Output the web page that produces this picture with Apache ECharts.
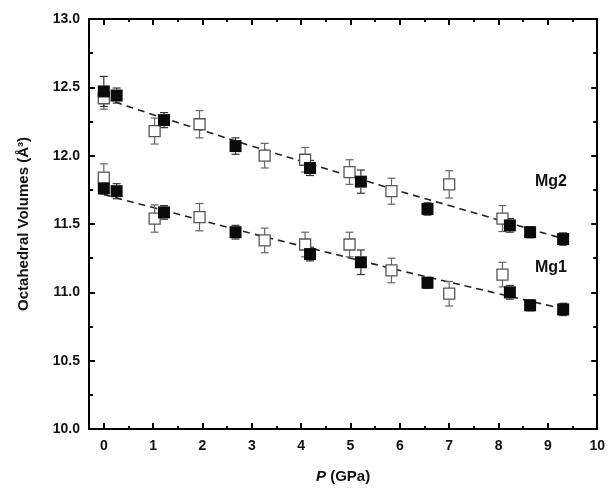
<!DOCTYPE html>
<html>
<head>
<meta charset="utf-8">
<script src="https://cdn.jsdelivr.net/npm/echarts@6/dist/echarts.min.js"></script>
<style>
html,body{margin:0;padding:0;background:#fff;}
#chart{width:608px;height:490px;}
</style>
</head>
<body>
<div id="chart"></div>
<script>
// Pressure points (GPa) for the two sample sets
var pFilled = [0.0, 0.26, 1.22, 2.67, 4.18, 5.21, 6.56, 8.23, 8.64, 9.31];
var pOpen = [0.0, 1.03, 1.94, 3.26, 4.08, 4.98, 5.83, 7.0, 8.08];

// Mg2 octahedral volumes (Å³) and uncertainties
var mg2Filled = [12.47, 12.44, 12.26, 12.07, 11.91, 11.81, 11.61, 11.49, 11.44, 11.39];
var mg2FilledErr = [0.11, 0.055, 0.055, 0.06, 0.055, 0.085, 0.045, 0.05, 0.04, 0.045];
var mg2Open = [12.42, 12.18, 12.23, 12.00, 11.97, 11.88, 11.74, 11.79, 11.54];
var mg2OpenErr = [0.08, 0.095, 0.1, 0.09, 0.09, 0.09, 0.095, 0.1, 0.095];

// Mg1 octahedral volumes (Å³) and uncertainties
var mg1Filled = [11.76, 11.74, 11.585, 11.44, 11.28, 11.22, 11.07, 11.0, 10.905, 10.875];
var mg1FilledErr = [0.04, 0.055, 0.05, 0.05, 0.05, 0.09, 0.04, 0.05, 0.04, 0.045];
var mg1Open = [11.84, 11.54, 11.55, 11.38, 11.35, 11.35, 11.16, 10.99, 11.13];
var mg1OpenErr = [0.1, 0.1, 0.1, 0.09, 0.09, 0.09, 0.09, 0.09, 0.09];

// Equation-of-state fit curves
var fitP = [0, 1, 2, 3, 4, 5, 6, 7, 8, 9, 9.35];
var mg2Fit = [12.42, 12.30, 12.185, 12.07, 11.96, 11.85, 11.74, 11.635, 11.53, 11.425, 11.39];
var mg1Fit = [11.715, 11.62, 11.525, 11.43, 11.34, 11.25, 11.16, 11.075, 10.99, 10.905, 10.875];

// Axis ticks
var xMajor = [0, 1, 2, 3, 4, 5, 6, 7, 8, 9, 10];
var xMinor = [0.5, 1.5, 2.5, 3.5, 4.5, 5.5, 6.5, 7.5, 8.5, 9.5];
var yTicks = [10.0, 10.5, 11.0, 11.5, 12.0, 12.5, 13.0];

var FONT = 'Liberation Sans, Arial, sans-serif';

function zip(xs, ys) { return xs.map(function (x, i) { return [x, ys[i]]; }); }
function errData(xs, ys, es) {
  return xs.map(function (x, i) { return [x, ys[i], ys[i] - es[i], ys[i] + es[i]]; });
}
// Error bars with caps; the stem stops at the marker edge so it never crosses the square
function errSeries(data, color, half) {
  return {
    type: 'custom', z: 3, silent: true,
    renderItem: function (params, api) {
      var mid = api.coord([api.value(0), api.value(1)]);
      var top = api.coord([api.value(0), api.value(3)]);
      var bot = api.coord([api.value(0), api.value(2)]);
      var cw = 4;
      var st = { stroke: color, lineWidth: 1.2 };
      var kids = [
        { type: 'line', shape: { x1: top[0] - cw, y1: top[1], x2: top[0] + cw, y2: top[1] }, style: st },
        { type: 'line', shape: { x1: bot[0] - cw, y1: bot[1], x2: bot[0] + cw, y2: bot[1] }, style: st }
      ];
      if (mid[1] - half > top[1]) {
        kids.push({ type: 'line', shape: { x1: top[0], y1: top[1], x2: top[0], y2: mid[1] - half }, style: st });
      }
      if (mid[1] + half < bot[1]) {
        kids.push({ type: 'line', shape: { x1: bot[0], y1: mid[1] + half, x2: bot[0], y2: bot[1] }, style: st });
      }
      return { type: 'group', children: kids };
    },
    data: data
  };
}
function fitSeries(ys) {
  return {
    type: 'line', z: 2, silent: true, symbol: 'none', smooth: true,
    lineStyle: { color: '#222', width: 1.6, type: [7, 5] },
    data: zip(fitP, ys)
  };
}
function openSeries(ys) {
  return {
    type: 'scatter', z: 4, symbol: 'rect', symbolSize: 11,
    itemStyle: { color: '#fff', borderColor: '#555', borderWidth: 1.3, opacity: 1 },
    emphasis: { disabled: true },
    data: zip(pOpen, ys)
  };
}
function filledSeries(ys) {
  return {
    type: 'scatter', z: 5, symbol: 'rect', symbolSize: 12,
    itemStyle: { color: '#0a0a0a', borderWidth: 0, opacity: 1 },
    emphasis: { disabled: true },
    data: zip(pFilled, ys)
  };
}

var axisLine = { show: true, onZero: false, lineStyle: { color: '#000', width: 2 } };
function xAx(pos, ticks, len, labels) {
  return {
    type: 'value', position: pos, min: -0.3, max: 10,
    axisLine: axisLine, splitLine: { show: false },
    axisTick: { show: true, inside: true, length: len, customValues: ticks, lineStyle: { color: '#000', width: 2 } },
    axisLabel: labels ? {
      show: true, customValues: xMajor, color: '#111', fontFamily: FONT, fontWeight: 'bold', fontSize: 14, margin: 10,
      formatter: function (v) { return String(Math.round(v)); }
    } : { show: false }
  };
}
function yAx(pos) {
  return {
    type: 'value', min: 10, max: 13, interval: 0.5, position: pos,
    axisLine: axisLine, splitLine: { show: false },
    axisTick: { show: true, inside: true, length: 6, lineStyle: { color: '#000', width: 2 } },
    minorTick: { show: true, splitNumber: 2, length: 4, lineStyle: { color: '#000', width: 2 } },
    axisLabel: { show: false }
  };
}

var chart = echarts.init(document.getElementById('chart'), null, { renderer: 'canvas' });
chart.setOption({
  animation: false,
  backgroundColor: '#fff',
  grid: { left: 89, right: 10, top: 19, bottom: 61, containLabel: false },
  xAxis: [
    Object.assign(xAx('bottom', xMajor, 6, true), {
      name: '{i|P} (GPa)', nameLocation: 'middle', nameGap: 40,
      nameTextStyle: {
        color: '#111', fontFamily: FONT, fontWeight: 'bold', fontSize: 15,
        rich: { i: { fontStyle: 'italic', fontWeight: 'bold', fontFamily: FONT, fontSize: 15, color: '#111' } }
      }
    }),
    xAx('bottom', xMinor, 3, false),
    xAx('top', xMajor, 6, false),
    xAx('top', xMinor, 3, false)
  ],
  yAxis: [
    Object.assign(yAx('left'), {
      axisLabel: {
        show: true, color: '#111', fontFamily: FONT, fontWeight: 'bold', fontSize: 14, margin: 9,
        formatter: function (v) { return yTicks.indexOf(v) >= 0 ? v.toFixed(1) : ''; }
      },
      name: 'Octahedral Volumes (Å³)', nameLocation: 'middle', nameGap: 58,
      nameTextStyle: { color: '#111', fontFamily: FONT, fontWeight: 'bold', fontSize: 15 }
    }),
    yAx('right')
  ],
  series: [
    fitSeries(mg2Fit),
    fitSeries(mg1Fit),
    errSeries(errData(pOpen, mg2Open, mg2OpenErr), '#666', 5.5),
    errSeries(errData(pOpen, mg1Open, mg1OpenErr), '#666', 5.5),
    errSeries(errData(pFilled, mg2Filled, mg2FilledErr), '#333', 6),
    errSeries(errData(pFilled, mg1Filled, mg1FilledErr), '#333', 6),
    openSeries(mg2Open),
    openSeries(mg1Open),
    filledSeries(mg2Filled),
    filledSeries(mg1Filled)
  ],
  graphic: [
    { type: 'text', left: 535, top: 174, style: { text: 'Mg2', fill: '#111', font: 'bold 16px ' + FONT } },
    { type: 'text', left: 535, top: 260, style: { text: 'Mg1', fill: '#111', font: 'bold 16px ' + FONT } }
  ]
});
</script>
</body>
</html>
